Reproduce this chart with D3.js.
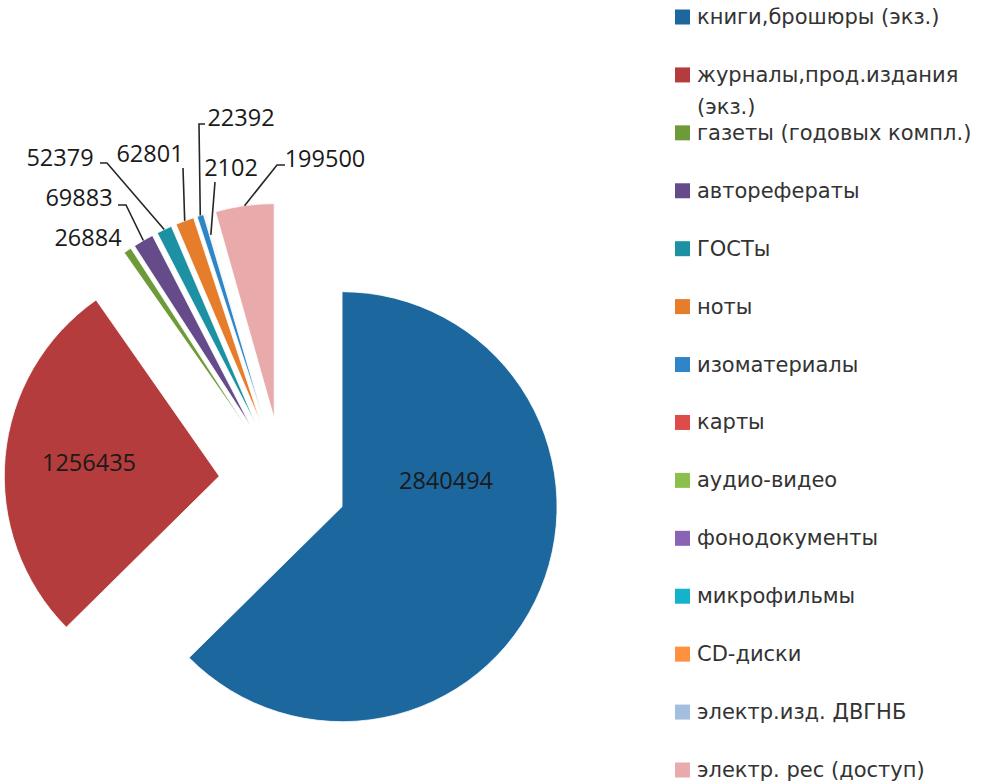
<!DOCTYPE html>
<html>
<head>
<meta charset="utf-8">
<script src="https://cdn.jsdelivr.net/npm/d3@7"></script>
<style>
  body { margin: 0; background: #fff; }
  svg { display: block; }
  .dlabel { font-family: "Open Sans", sans-serif; font-size: 23.5px; fill: #1a1a1a; }
  .legend text { font-family: "DejaVu Sans", sans-serif; font-size: 21px; fill: #333; }
</style>
</head>
<body>
<svg id="chart" width="983" height="784"></svg>
<script>

// categories in legend / slice order
var categories = [
  "книги,брошюры (экз.)",
  "журналы,прод.издания (экз.)",
  "газеты (годовых компл.)",
  "авторефераты",
  "ГОСТы",
  "ноты",
  "изоматериалы",
  "карты",
  "аудио-видео",
  "фонодокументы",
  "микрофильмы",
  "CD-диски",
  "электр.изд. ДВГНБ",
  "электр. рес (доступ)"
];

// values (the unlabelled tiny ones are estimates)
var values = [2840494, 1256435, 26884, 69883, 52379, 62801, 22392, 2102, 1200, 900, 400, 1500, 600, 199500];

// which slices carry a data label
var labelled = [true, true, true, true, true, true, true, true, false, false, false, false, false, true];

var colors = ["#1b679e", "#b43c3c", "#6e9b3a", "#664b8b", "#1b91a3", "#e57d2b", "#2e86c8",
              "#dd4b4b", "#8cc04e", "#8b63b5", "#15b2cc", "#ff9040", "#a4bedd", "#e8aaaa"];

var svg = d3.select("#chart");

var cx = 283, cy = 482,
    radius = 215,
    explode = 64;

var pie = d3.pie().sort(null).value(function(d) { return d; });
var arcs = pie(values);

var arc = d3.arc().innerRadius(0).outerRadius(radius);

function mid(d) { return (d.startAngle + d.endAngle) / 2; }
function offset(d) {
  var a = mid(d);
  return [Math.sin(a) * explode, -Math.cos(a) * explode];
}
// point on the slice bisector, r from the (exploded) apex
function onSlice(d, r) {
  var a = mid(d), o = offset(d);
  return [cx + o[0] + Math.sin(a) * r, cy + o[1] - Math.cos(a) * r];
}

var g = svg.append("g").attr("transform", "translate(" + cx + "," + cy + ")");

g.selectAll("path")
  .data(arcs)
  .enter().append("path")
  .attr("d", arc)
  .attr("transform", function(d) { return "translate(" + offset(d) + ")"; })
  .attr("fill", function(d, i) { return colors[i]; })
  .attr("stroke", "#fff")
  .attr("stroke-width", 0.8);

// label layout: text centre, optional leader elbow points, anchor depth on the slice
var labelLayout = {
  0:  { x: 446, y: 480 },
  1:  { x: 89,  y: 462 },
  2:  { x: 88,  y: 237 },
  3:  { x: 79,  y: 197, elbow: [[118, 205], [126, 205]], r: radius },
  4:  { x: 60,  y: 157, elbow: [[100, 163], [107, 163]], r: radius },
  5:  { x: 150, y: 153, elbow: [[183, 168]], r: radius },
  6:  { x: 241, y: 117, elbow: [[205, 124], [199, 124]], r: radius },
  7:  { x: 231, y: 167, elbow: [[215, 182]], r: radius * 0.9 },
  13: { x: 325, y: 158, elbow: [[285, 165], [277, 165]], r: radius }
};

var leaders = svg.append("g")
  .attr("fill", "none")
  .attr("stroke", "#262626")
  .attr("stroke-width", 1.6);

var labels = svg.append("g");

arcs.forEach(function(d, i) {
  if (!labelled[i]) return;
  var L = labelLayout[i];
  if (L.elbow) {
    var pts = L.elbow.concat([onSlice(d, L.r)]);
    leaders.append("path").attr("d", d3.line()(pts));
  }
  labels.append("text")
    .attr("class", "dlabel")
    .attr("x", L.x)
    .attr("y", L.y)
    .attr("text-anchor", "middle")
    .attr("dominant-baseline", "central")
    .text(values[i]);
});

// legend
var legendY = d3.scaleLinear().domain([0, categories.length - 1]).range([17, 770]);
var legend = svg.append("g").attr("class", "legend");

categories.forEach(function(c, i) {
  var y = legendY(i);
  legend.append("rect")
    .attr("x", 675).attr("y", y - 7.5)
    .attr("width", 15).attr("height", 15)
    .attr("fill", colors[i]);
  var t = legend.append("text")
    .attr("x", 697).attr("y", y)
    .attr("dominant-baseline", "central")
    .text(c);
  // wrap long entries onto a second line
  if (t.node().getComputedTextLength() > 284) {
    var words = c.split(" "), last = words.pop();
    t.text(words.join(" "));
    legend.append("text")
      .attr("x", 697).attr("y", y + 32)
      .attr("dominant-baseline", "central")
      .text(last);
  }
});

</script>
</body>
</html>
